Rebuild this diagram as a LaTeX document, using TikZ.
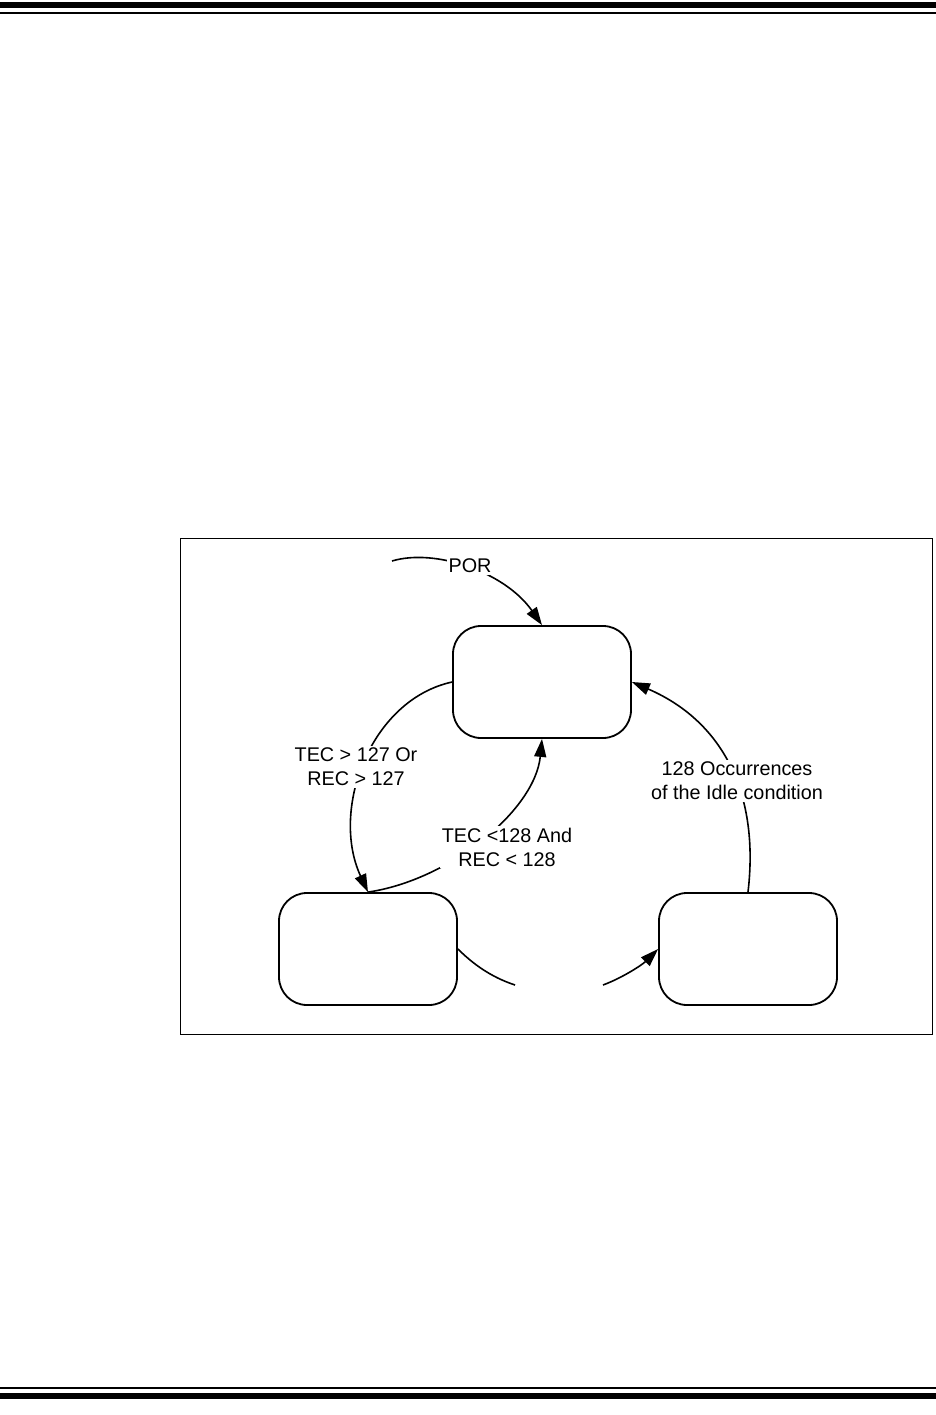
\documentclass[tikz,border=0pt]{standalone}
\usepackage{fontspec}
\setmainfont{Liberation Sans}
\usetikzlibrary{arrows.meta}
\begin{document}
\begin{tikzpicture}[x=1pt,y=-1pt,
  statebox/.style={draw, line width=1.8pt, rounded corners=28pt, minimum width=178pt, minimum height=112pt, inner sep=0pt},
  conn/.style={line width=1.6pt},
  arr/.style={conn, -{Triangle[length=18pt,width=12pt]}},
  lbl/.style={fill=white, inner sep=1.5pt, align=center, font=\fontsize{19.8}{24}\selectfont}]
\useasboundingbox (0,0) rectangle (936,1415);
% page rules
\fill (0,2) rectangle (936,8);
\fill (0,12) rectangle (936,14);
\fill (0,1387) rectangle (936,1389);
\fill (0,1393) rectangle (936,1399);
% frame
\draw[line width=1pt] (180,538) rectangle (932,1034);
% states
\node[statebox] (top) at (542,682) {};
\node[statebox] (bl) at (368,949) {};
\node[statebox] (br) at (748,949) {};
% POR
\coordinate (porstart) at (392,561);
\draw[arr] (porstart) .. controls (435,548) and (505,572) .. (top.north)
  node[lbl] at (470,566) {POR};
% top -> bl
\draw[arr] (top.west) .. controls (370,700) and (330,810) .. (bl.north)
  node[lbl] at (356,767) {TEC > 127 Or\\REC > 127};
% bl -> top
\draw[arr] (bl.north) .. controls (450,880) and (535,810) .. (top.south)
  node[lbl] at (507,847) {TEC <128 And\\REC < 128};
% br -> top
\draw[arr] (br.north) .. controls (760,790) and (720,720) .. (top.east)
  node[lbl] at (737,781) {128 Occurrences\\of the Idle condition};
% bl -> br (gap)
\coordinate (gapl) at (515,985);
\coordinate (gapr) at (603,985);
\draw[conn] (bl.east) .. controls (478,969) and (497,979) .. (gapl);
\draw[arr] (gapr) .. controls (622,978) and (642,965) .. (br.west);
\end{tikzpicture}
\end{document}
